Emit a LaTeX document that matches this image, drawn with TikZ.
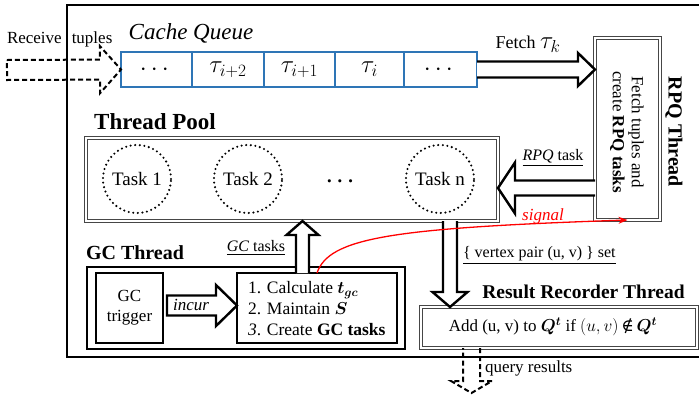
\documentclass[tikz,border=0pt]{standalone}
\usepackage{amsmath}
\usepackage{bm}
\usepackage{fontspec}
\setmainfont{Liberation Serif}
\newfontfamily\symfont{DejaVu Serif}
\usetikzlibrary{arrows.meta,calc}
\definecolor{qblue}{RGB}{46,117,182}
\newcommand{\fsz}[2]{\fontsize{#1}{#2}\selectfont}
% #1 style, #2 from, #3 to, #4 shaft half width, #5 head half width, #6 head length, #7 closing
\newcommand{\fatarrow}[7]{%
  \coordinate (fatH) at ($(#3)!#6pt!(#2)$);
  \draw[#1] ($(#2)!#4pt!90:(#3)$) -- ($(fatH)!#4pt!90:(#3)$) -- ($(fatH)!#5pt!90:(#3)$) -- (#3) -- ($(fatH)!#5pt!-90:(#3)$) -- ($(fatH)!#4pt!-90:(#3)$) -- ($(#2)!#4pt!-90:(#3)$) #7;}
\begin{document}
\begin{tikzpicture}[x=1pt,y=-1pt,
  every node/.style={outer sep=0pt},
  cell/.style={draw=qblue, line width=2pt, minimum height=35pt, inner sep=0pt, font=\fsz{25}{28}},
  dbl/.style={draw=gray!55!black, double=white, double distance=1.6pt, line width=0.9pt},
  thick box/.style={draw=black, line width=2.6pt},
  taskc/.style={circle, draw=black, minimum size=68pt, inner sep=0pt, line width=2.3pt, dash pattern=on 0pt off 4.6pt, line cap=round, font=\fsz{19}{22}},
  blk/.style={draw=black, line width=2.4pt, fill=white, line join=miter},
  dsh/.style={draw=black, line width=2pt, dash pattern=on 5pt off 3pt, line join=miter},
  lbl/.style={font=\fsz{16}{19}, inner sep=0pt},
  txt/.style={font=\fsz{17}{20}, inner sep=0pt}]
\useasboundingbox (0,0) rectangle (699,394);
\clip (0,0) rectangle (699,394);

% outer box
\draw[line width=2.8pt] (67,5) rectangle (712,357);

% cache queue
\node[font=\itshape\fsz{23}{26}, inner sep=0pt] (cqlab) at (191,33) {Cache Queue};
\node[cell, minimum width=71pt] (c1) at (156.5,69.5) {$\cdots$};
\node[cell, minimum width=72pt] (c2) at (228,69.5) {$\tau_{i+2}$};
\node[cell, minimum width=71pt] (c3) at (299.5,69.5) {$\tau_{i+1}$};
\node[cell, minimum width=69pt] (c4) at (369.5,69.5) {$\tau_{i}$};
\node[cell, minimum width=73pt] (c5) at (440.5,69.5) {$\cdots$};

% receive tuples
\node[txt, anchor=west] (recv) at (7,39) {Receive\hspace{10pt}tuples};
\coordinate (rin) at (7,70);
\fatarrow{dsh}{rin}{c1.west}{10}{23.5}{21}{-- cycle}

% RPQ thread box
\node[dbl, minimum width=65pt, minimum height=182pt] (rpq) at (627.5,129) {};
\node[rotate=-90, align=center, font=\fsz{17}{19}, inner sep=0pt] (rpqtxt) at (627,132) {Fetch tuples and\\create \textbf{RPQ tasks}};
\node[rotate=-90, font=\bfseries\fsz{20}{24}, inner sep=0pt] (rpqlab) at (674,132) {RPQ Thread};

% fetch arrow
\node[font=\fsz{18}{21}, inner sep=0pt] (fetchlab) at (528,44) {Fetch {\fsz{23}{25}$\tau_k$}};
\fatarrow{blk}{c5.east}{rpq.west |- c5.east}{8}{16.5}{17}{}

% thread pool
\node[font=\bfseries\fsz{23}{26}, inner sep=0pt] (tplab) at (155,122) {Thread Pool};
\node[dbl, minimum width=412pt, minimum height=83pt] (pool) at (292,179.5) {};
\node[taskc] (t1) at (137,179) {Task 1};
\node[taskc] (t2) at (248,179) {Task 2};
\node[font=\fsz{22}{24}, inner sep=0pt] (dots) at (342,182) {$\bm{\cdots}$};
\node[taskc] (tn) at (440,179) {Task n};

% RPQ task arrow
\coordinate (pin) at ($(pool.east)+(0,8.5)$);
\fatarrow{blk}{rpq.west |- pin}{pin}{7.5}{25.5}{17}{}
\node[lbl] (rpqtask) at (553,158) {\underline{\textit{RPQ} task}};

% result recorder
\node[font=\bfseries\fsz{19.5}{23}, inner sep=0pt] (rrlab) at (583.5,292) {Result Recorder Thread};
\node[dbl, minimum width=276pt, minimum height=41pt] (rr) at (559,327.5) {};
\node[font=\fsz{17}{20}, inner sep=0pt] (rrtxt) at (553,327) {Add (u, v) to $\bm{Q}^{\bm{t}}$ if $(u, v)$\,{\symfont ∉}\,$\bm{Q}^{\bm{t}}$};

% down arrow
\coordinate (dn) at ($(pool.south)+(158,0)$);
\fatarrow{blk}{dn}{rr.north -| dn}{7}{17.5}{15}{}
\node[lbl, anchor=west] (vplab) at (463,255) {\underline{\{ vertex pair (u, v) \} set}};

% query results
\coordinate (qout) at (471.5,393);
\fatarrow{dsh}{rr.south -| qout}{qout}{8.5}{20.5}{12}{}
\node[txt, anchor=west] (qlab) at (485,368) {query results};

% GC thread
\node[font=\bfseries\fsz{20}{24}, inner sep=0pt] (gclab) at (135,253) {GC Thread};
\node[thick box, minimum width=318pt, minimum height=82pt] (gc) at (246,308) {};
\node[thick box, line width=2.4pt, minimum width=67pt, minimum height=70pt, align=center, font=\fsz{17}{20}] (trig) at (129.5,308) {GC\\trigger};
\node[thick box, line width=2.4pt, minimum width=160pt, minimum height=70pt] (calc) at (317,308) {};
\node[anchor=west, align=left, font=\fsz{17.5}{21}, inner sep=0pt] (calctxt) at (248,309) {1. Calculate $\bm{t}_{\bm{gc}}$\\2. Maintain $\bm{S}$\\\textit{3}. Create \textbf{GC tasks}};

% incur arrow
\coordinate (iin) at ($(trig.east)+(4,-2.5)$);
\fatarrow{blk}{iin}{calc.west |- iin}{10}{20.5}{21}{-- cycle}
\node[font=\itshape\fsz{17}{20}, inner sep=0pt] (incur) at (191,305) {incur};

% GC tasks arrow
\coordinate (gcup) at ($(calc.north)+(-14.5,0)$);
\fatarrow{blk}{gcup}{pool.south -| gcup}{6.5}{16}{14}{}
\node[lbl] (gctasks) at (256,248) {\underline{\textit{GC} tasks}};

% signal
\coordinate (sigstart) at (calc.north);
\draw[red, line width=1.3pt, -{Stealth[length=9pt,width=7pt]}] (sigstart) .. controls (329,238) and (390,228) .. (rpq.south);
\node[font=\itshape\fsz{17}{20}, text=red, inner sep=0pt] (siglab) at (543,216) {signal};
\end{tikzpicture}
\end{document}
